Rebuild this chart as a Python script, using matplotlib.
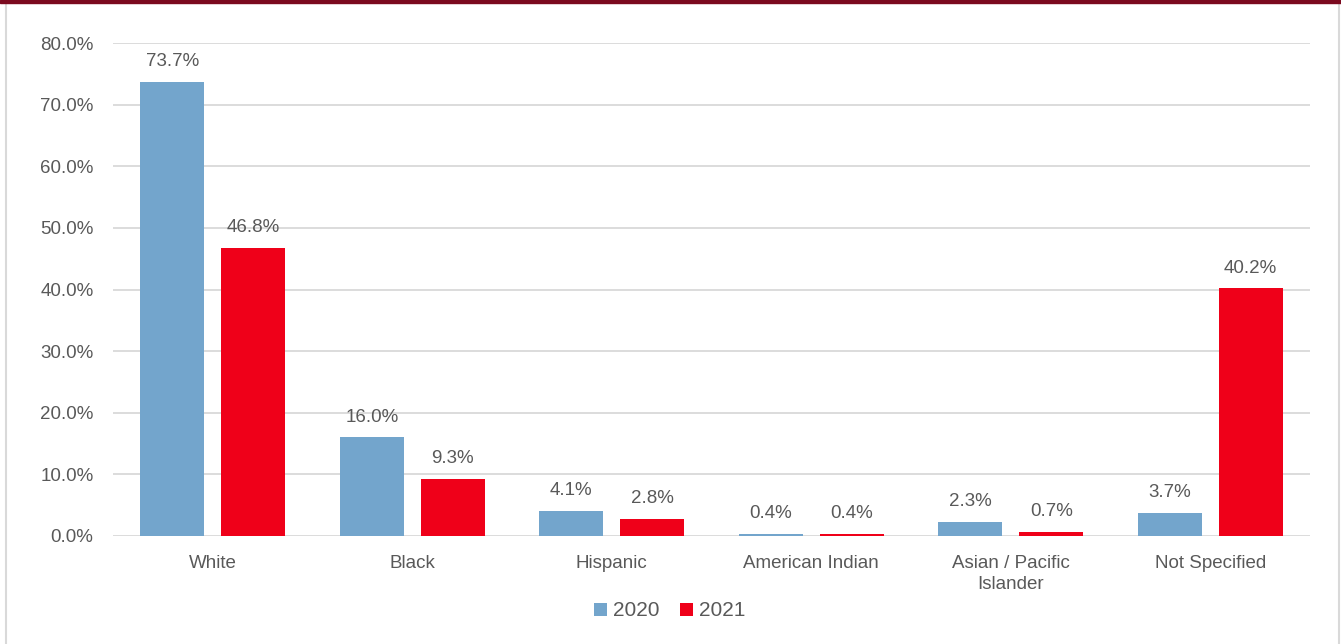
import numpy as np
import matplotlib.pyplot as plt
from matplotlib.patches import Rectangle
from matplotlib.ticker import PercentFormatter

categories = ['White', 'Black', 'Hispanic', 'American Indian', 'Asian / Pacific\nIslander', 'Not Specified']
vals_2020 = [73.7, 16.0, 4.1, 0.4, 2.3, 3.7]
vals_2021 = [46.8, 9.3, 2.8, 0.4, 0.7, 40.2]
years = ['2020', '2021']

blue = '#73a5cc'
red = '#ef0019'
text_grey = '#595959'

plt.rcParams['font.family'] = ['Liberation Sans', 'DejaVu Sans']

fig = plt.figure(figsize=(13.41, 6.44), dpi=100)
ax = fig.add_axes([113 / 1341, 1 - 536 / 644, (1310 - 113) / 1341, (536 - 43) / 644])

x = np.arange(len(categories))
w = 0.32
off = 0.203
b1 = ax.bar(x - off, vals_2020, w, color=blue, label=years[0], zorder=3)
b2 = ax.bar(x + off, vals_2021, w, color=red, label=years[1], zorder=3)

for bars, vals in ((b1, vals_2020), (b2, vals_2021)):
    for r, v in zip(bars, vals):
        ax.text(r.get_x() + r.get_width() / 2, v + 1.9, f'{v:.1f}%', ha='center', va='bottom',
                fontsize=13.5, color=text_grey)

ax.set_xlim(-0.5, len(categories) - 0.5)
ax.set_ylim(0, 80)
ax.set_yticks(np.arange(0, 81, 10))
ax.yaxis.set_major_formatter(PercentFormatter(decimals=1))
ax.grid(axis='y', color='#d9d9d9', linewidth=1.3, zorder=0)
for s in ax.spines.values():
    s.set_visible(False)
ax.tick_params(axis='both', length=0, labelsize=13.5, labelcolor=text_grey)
ax.tick_params(axis='y', pad=14)
ax.tick_params(axis='x', pad=14)
ax.set_xticks(x)
ax.set_xticklabels(categories, linespacing=1.3)

fig.legend(handles=[b1, b2], loc='center', bbox_to_anchor=(670 / 1341, 1 - 611 / 644), ncol=2,
           frameon=False, fontsize=15, handlelength=0.6, handleheight=0.6, handletextpad=0.3,
           columnspacing=1.0, labelcolor=text_grey)

# frame around the chart
fig.patches.append(Rectangle((0, 1 - 3 / 644), 1, 3 / 644, transform=fig.transFigure,
                             color='#7b0a1f', zorder=5))
fig.add_artist(plt.Line2D([6 / 1341, 6 / 1341], [0, 1 - 3 / 644], color='#d9d9d9', lw=1.5))
fig.add_artist(plt.Line2D([1339 / 1341, 1339 / 1341], [0, 1 - 3 / 644], color='#d9d9d9', lw=1.5))

fig.savefig('out.png', dpi=100)
